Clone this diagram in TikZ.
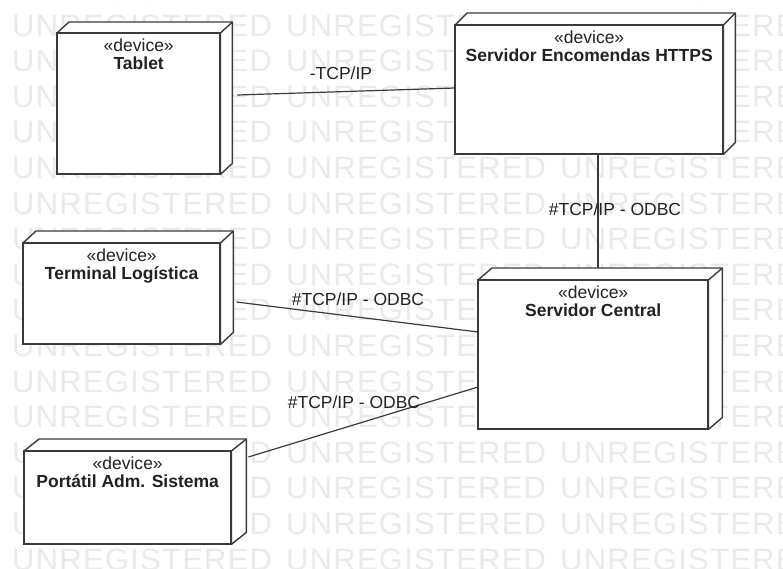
\documentclass[tikz,border=0pt]{standalone}
\usepackage{fontspec}
\setmainfont{Liberation Sans}
\newfontfamily\wmfont[LetterSpace=4]{Liberation Sans}
\definecolor{ink}{HTML}{222222}
\definecolor{edgecol}{HTML}{3A3A3A}
\definecolor{wmgray}{HTML}{EAEAEA}
\begin{document}
\begin{tikzpicture}[x=1pt,y=-1pt,
  device/.style={draw=edgecol, fill=white, line width=1.4pt, anchor=north west,
    inner sep=0pt},
  box3d/.style={draw=edgecol, fill=white, line width=1.4pt, line join=round},
  devtext/.style={anchor=north, align=center, inner sep=0pt, text=ink,
    font=\fontsize{17.5}{18}\selectfont},
  link/.style={draw=edgecol, line width=1.2pt},
  linklabel/.style={anchor=base, inner sep=0pt, text=ink,
    font=\fontsize{17.5}{18}\selectfont},
  wm/.style={anchor=base west, inner sep=0pt, text=wmgray,
    font=\wmfont\fontsize{31}{31}\selectfont}]

\useasboundingbox (0,0) rectangle (783,568);

% background watermark
\begin{scope}
  \clip (0,0) rectangle (783,568);
  \foreach \r in {0,...,16}
    \foreach \c in {0,1,2}
      \node[wm] (wm\r-\c) at ({12+274*\c},{0.4+35.6*\r}) {UNREGISTERED};
\end{scope}

% device nodes (front faces)
\node[device, minimum width=162, minimum height=140] (tablet) at (57,33) {};
\node[device, minimum width=267, minimum height=128] (enc) at (455,25) {};
\node[device, minimum width=196, minimum height=100] (term) at (23,243) {};
\node[device, minimum width=229, minimum height=148] (central) at (478,280) {};
\node[device, minimum width=206, minimum height=92] (port) at (24,451) {};

% top and side faces
\foreach \n/\dx/\dy in {tablet/12/11, enc/12/12, term/13/12, central/14/12, port/15/12} {
  \draw[box3d] (\n.north west) -- ++(\dx,-\dy)
    -- ([shift={(\dx,-\dy)}]\n.north east)
    -- ([shift={(\dx,-\dy)}]\n.south east)
    -- (\n.south east) -- (\n.north east) -- cycle;
  \draw[box3d] (\n.north east) -- ++(\dx,-\dy);
  \draw[device, fill=none] (\n.north west) rectangle (\n.south east);
}

% device captions
\node[devtext] (tabletT) at ([yshift=-6pt]tablet.north) {«device»\\\textbf{Tablet}};
\node[devtext] (encT) at ([yshift=-6pt]enc.north) {«device»\\\textbf{Servidor Encomendas HTTPS}};
\node[devtext] (termT) at ([yshift=-6pt]term.north) {«device»\\\textbf{Terminal Logística}};
\node[devtext] (centralT) at ([yshift=-6pt]central.north) {«device»\\\textbf{Servidor Central}};
\node[devtext] (portT) at ([yshift=-6pt]port.north) {«device»\\\textbf{Portátil Adm. Sistema}};

% communication paths
\draw[link] ([shift={(17,62)}]tablet.north east) -- ([shift={(0,63)}]enc.north west);
\draw[link] ([shift={(143,0)}]enc.south west) -- ([shift={(120,-12)}]central.north west);
\draw[link] ([shift={(16,59)}]term.north east) -- ([shift={(0,52)}]central.north west);
\draw[link] ([shift={(17,6)}]port.north east) -- ([shift={(0,107)}]central.north west);

% path labels
\node[linklabel] (l1) at (341,79) {-TCP/IP};
\node[linklabel] (l2) at (615,215) {\#TCP/IP - ODBC};
\node[linklabel] (l3) at (358,305) {\#TCP/IP - ODBC};
\node[linklabel] (l4) at (354,408) {\#TCP/IP - ODBC};
\end{tikzpicture}
\end{document}
